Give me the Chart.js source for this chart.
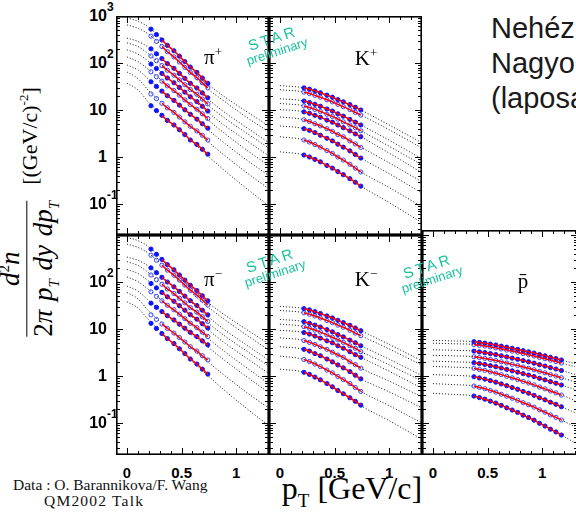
<!DOCTYPE html>
<html lang="hu">
<head>
<meta charset="UTF-8">
<title>Spektrumok</title>
<script src="https://cdn.jsdelivr.net/npm/chart.js"></script>
<style>
  html, body { margin: 0; padding: 0; background: #fff; }
  body { width: 576px; height: 513px; position: relative; overflow: hidden; }
  canvas { position: absolute; }
  .lbl { position: absolute; white-space: nowrap; }
  .ytick { font: bold 16px "Liberation Sans", Arial, sans-serif; transform: translate(-100%, -50%); }
  .ytick span { position: absolute; left: 100%; top: -7px; font-size: 12px; }
  .xtick { font: bold 15px "Liberation Sans", Arial, sans-serif; transform: translate(-50%, -50%); }
  .part { font: 21px "Liberation Serif", "Times New Roman", serif; transform: translate(-50%, -50%); }
  .part sup { font-size: 13px; }
  .star { color: #17c29c; font-family: "Liberation Sans", Arial, sans-serif; transform: translate(-50%, -50%) rotate(-18deg); text-align: center; line-height: 14px; }
  .star .s1 { font-size: 15px; letter-spacing: 3px; }
  .star .s2 { font-size: 13px; }
  #ytitle { position: absolute; left: 29px; top: 212px; transform: translate(-50%, -50%) rotate(-90deg);
            font-family: "Liberation Serif", "Times New Roman", serif; font-size: 27px; white-space: nowrap; display: flex; align-items: center; }
  #ytitle .frac { display: inline-flex; flex-direction: column; align-items: center; }
  #ytitle .den { border-top: 1.5px solid #000; padding-top: 1px; font-size: 27px; word-spacing: 2px; }
  #ytitle .unit { margin-left: 16px; font-size: 22px; }
  #ytitle sup, #ytitle sub { font-size: 15px; }
  #ytitle .unit sup { font-size: 13px; }
  #xtitle { position: absolute; left: 352px; top: 491px; transform: translate(-50%, -50%); font: 32px "Liberation Serif", "Times New Roman", serif; white-space: nowrap; }
  #xtitle sub { font-size: 19px; }
  #credit { position: absolute; left: 13px; top: 477px; font: 15.5px "Liberation Serif", "Times New Roman", serif; line-height: 16px; color: #111; }
  #credit span { margin-left: 31px; letter-spacing: 1.2px; }
  #note { position: absolute; left: 491px; top: 11px; font: 29px "Liberation Sans", Arial, sans-serif; line-height: 35px; color: #1a1a1a; white-space: nowrap; }
</style>
</head>
<body>
<canvas id="cPiP" width="153" height="219" style="left:116px;top:16px"></canvas>
<canvas id="cKP" width="153" height="219" style="left:269px;top:16px"></canvas>
<canvas id="cPiM" width="153" height="220" style="left:116px;top:235px"></canvas>
<canvas id="cKM" width="153" height="220" style="left:269px;top:235px"></canvas>
<canvas id="cPbar" width="156" height="225" style="left:422px;top:230px"></canvas>

<div id="ytitle"><span class="frac"><span class="num"><i>d</i><sup>2</sup><i>n</i></span><span class="den">2<i>π</i> <i>p</i><sub><i>T</i></sub> <i>dy</i> <i>dp</i><sub><i>T</i></sub></span></span><span class="unit">[(GeV/c)<sup>-2</sup>]</span></div>
<div id="xtitle">p<sub>T</sub> [GeV/c]</div>
<div id="credit">Data : O. Barannikova/F. Wang<br><span>QM2002 Talk</span></div>
<div id="note">Nehéz<br>Nagyobb<br>(laposabb</div>

<script>
// pT of the data points (GeV/c)
const ptPi = [0.22, 0.27, 0.32, 0.37, 0.43, 0.48, 0.53, 0.58, 0.64, 0.69, 0.74];
const ptK = [0.22, 0.27, 0.32, 0.37, 0.43, 0.48, 0.53, 0.58, 0.64, 0.69, 0.74];
const ptPbar = [0.375, 0.425, 0.475, 0.525, 0.575, 0.625, 0.675, 0.725, 0.775, 0.825, 0.875, 0.925, 0.975, 1.025, 1.075, 1.125, 1.175];

// spectra, one row per centrality bin (central first)
const piPlus = [
  [525, 403, 309, 237, 182, 140, 107, 82, 63, 48, 37],
  [372, 288, 224, 174, 135, 105, 81, 63, 49, 38, 29.5],
  [200, 157, 124, 97, 77, 60, 47, 37, 29.4, 23.1, 18.2],
  [141, 112, 88, 70, 55, 43.7, 34.5, 27.3, 21.6, 17.1, 13.5],
  [95, 76, 60, 48, 38, 30.2, 24, 19.1, 15.1, 12, 9.5],
  [65, 51, 41, 32.6, 25.9, 20.7, 16.4, 13.1, 10.4, 8.3, 6.6],
  [39.8, 31.7, 25.2, 20.1, 16, 12.7, 10.1, 8.1, 6.4, 5.1, 4.1],
  [21.9, 17.5, 13.9, 11.1, 8.9, 7.1, 5.6, 4.5, 3.6, 2.9, 2.3],
  [12.3, 9.7, 7.7, 6.0, 4.8, 3.8, 3.0, 2.3, 1.85, 1.46, 1.15]
];
const piMinus = [
  [501, 389, 302, 234, 182, 141, 110, 85, 66, 51, 39.8],
  [372, 291, 228, 179, 140, 110, 86, 67, 52.7, 41.3, 32.4],
  [200, 158, 126, 100, 79, 63, 50, 40, 31.6, 25.1, 20],
  [141, 112, 89.5, 71.3, 56.8, 45.2, 36, 28.6, 22.8, 18.2, 14.5],
  [93, 75, 60, 48.4, 38.9, 31.3, 25.1, 20.2, 16.2, 13, 10.5],
  [61.7, 49.5, 39.8, 32, 25.7, 20.7, 16.6, 13.3, 10.7, 8.6, 6.9],
  [35.5, 28.9, 23.5, 19.2, 15.6, 12.7, 10.4, 8.5, 6.9, 5.6, 4.6],
  [20, 16, 12.8, 10.3, 8.2, 6.6, 5.3, 4.2, 3.4, 2.7, 2.2],
  [13.2, 10.3, 8.0, 6.25, 4.9, 3.8, 3.0, 2.3, 1.8, 1.4, 1.1]
];
const kPlus = [
  [29.5, 27.7, 25.4, 23.3, 20.7, 18.7, 16.6, 14.9, 13.0, 11.4, 10.0],
  [24.0, 22.4, 20.5, 18.7, 16.5, 14.9, 13.2, 11.8, 10.2, 8.9, 7.8],
  [15.5, 14.4, 13.2, 12.0, 10.5, 9.5, 8.3, 7.4, 6.3, 5.5, 4.8],
  [12.2, 11.3, 10.3, 9.3, 8.1, 7.3, 6.4, 5.6, 4.8, 4.2, 3.6],
  [9.1, 8.5, 7.7, 7.0, 6.1, 5.5, 4.8, 4.2, 3.6, 3.1, 2.7],
  [6.2, 5.7, 5.1, 4.6, 4.0, 3.5, 3.0, 2.7, 2.2, 1.9, 1.6],
  [4.0, 3.7, 3.3, 2.9, 2.5, 2.2, 1.87, 1.62, 1.35, 1.13, 0.95],
  [2.3, 2.08, 1.84, 1.62, 1.37, 1.19, 1.0, 0.86, 0.70, 0.58, 0.48],
  [1.10, 1.0, 0.89, 0.79, 0.66, 0.58, 0.49, 0.42, 0.345, 0.29, 0.24]
];
const kMinus = [
  [27.1, 25.5, 23.4, 21.4, 19.0, 17.2, 15.3, 13.7, 12.0, 10.5, 9.2],
  [22.1, 20.6, 18.9, 17.2, 15.2, 13.7, 12.1, 10.9, 9.4, 8.2, 7.2],
  [14.3, 13.2, 12.1, 11.0, 9.7, 8.7, 7.6, 6.8, 5.8, 5.1, 4.4],
  [11.2, 10.4, 9.5, 8.6, 7.5, 6.7, 5.9, 5.2, 4.4, 3.9, 3.3],
  [8.4, 7.8, 7.1, 6.4, 5.6, 5.1, 4.4, 3.9, 3.3, 2.85, 2.5],
  [5.7, 5.2, 4.7, 4.2, 3.7, 3.2, 2.8, 2.5, 2.0, 1.75, 1.47],
  [3.7, 3.4, 3.0, 2.7, 2.3, 2.0, 1.72, 1.49, 1.24, 1.04, 0.87],
  [2.25, 2.04, 1.8, 1.59, 1.34, 1.17, 0.98, 0.84, 0.69, 0.57, 0.47],
  [1.2, 1.08, 0.95, 0.83, 0.69, 0.59, 0.49, 0.42, 0.345, 0.29, 0.24]
];
const pBar = [
  [5.37, 5.18, 5.0, 4.78, 4.57, 4.32, 4.10, 3.89, 3.68, 3.46, 3.27, 3.08, 2.86, 2.69, 2.50, 2.35, 2.19],
  [4.68, 4.51, 4.36, 4.16, 3.97, 3.77, 3.56, 3.38, 3.20, 3.0, 2.84, 2.67, 2.48, 2.33, 2.17, 2.03, 1.89],
  [3.39, 3.26, 3.14, 2.99, 2.86, 2.70, 2.55, 2.40, 2.27, 2.13, 2.01, 1.88, 1.74, 1.63, 1.51, 1.41, 1.31],
  [2.57, 2.47, 2.37, 2.25, 2.14, 2.01, 1.89, 1.77, 1.67, 1.55, 1.46, 1.36, 1.25, 1.17, 1.07, 1.0, 0.92],
  [1.92, 1.84, 1.76, 1.66, 1.58, 1.48, 1.38, 1.29, 1.21, 1.12, 1.05, 0.975, 0.893, 0.828, 0.759, 0.703, 0.644],
  [1.46, 1.38, 1.32, 1.23, 1.15, 1.07, 0.986, 0.912, 0.841, 0.769, 0.711, 0.649, 0.583, 0.533, 0.48, 0.438, 0.394],
  [0.966, 0.91, 0.859, 0.798, 0.741, 0.679, 0.622, 0.569, 0.521, 0.47, 0.431, 0.388, 0.345, 0.312, 0.277, 0.25, 0.222],
  [0.612, 0.573, 0.536, 0.493, 0.454, 0.41, 0.372, 0.337, 0.304, 0.271, 0.245, 0.218, 0.191, 0.17, 0.149, 0.132, 0.116],
  [0.375, 0.348, 0.322, 0.292, 0.266, 0.237, 0.211, 0.189, 0.168, 0.147, 0.131, 0.115, 0.0986, 0.0863, 0.074, 0.0647, 0.0556]
];

// dotted fit curves, sampled along pT
const dotPtPi = [0, 0.1, 0.2, 0.45, 0.7, 0.9, 1.1, 1.3];
const dotPiPlus = [
  [912, 776, 575, 158, 42.7, 18.6, 9.1, 4.57],
  [646, 550, 407, 119, 33.5, 14.8, 6.9, 3.39],
  [339, 288, 214, 67.6, 20.4, 8.7, 4.17, 2.0],
  [269, 224, 155, 49, 15.1, 6.6, 3.16, 1.55],
  [191, 155, 107, 33.9, 10.7, 4.57, 2.19, 1.05],
  [135, 107, 72, 23.2, 7.4, 3.09, 1.38, 0.65],
  [91, 71, 44.7, 14.3, 4.57, 1.91, 0.85, 0.40],
  [64.6, 46.8, 25.7, 7.9, 2.57, 1.05, 0.457, 0.209],
  [37.2, 26.9, 14.5, 4.27, 1.29, 0.50, 0.209, 0.091]
];
const dotPiMinus = [
  [890, 760, 560, 155, 44, 19.5, 9.6, 4.8],
  [640, 545, 405, 121, 35, 15.6, 7.3, 3.55],
  [340, 290, 216, 70, 22, 9.4, 4.5, 2.15],
  [270, 225, 156, 50, 16, 7.0, 3.35, 1.62],
  [185, 152, 104, 34.5, 11.5, 4.95, 2.35, 1.12],
  [128, 102, 69, 22.5, 7.6, 3.25, 1.47, 0.68],
  [82, 64, 40, 13.2, 4.9, 2.1, 0.95, 0.44],
  [60, 44, 24, 7.3, 2.4, 1.0, 0.44, 0.205],
  [38, 28, 15.5, 4.4, 1.25, 0.48, 0.2, 0.088]
];
const dotPtK = [0, 0.22, 0.48, 0.74, 1.0, 1.3];
const dotKPlus = [
  [33, 29.5, 18.6, 10, 4.8, 2.0],
  [27, 24, 14.8, 7.8, 3.8, 1.55],
  [17.4, 15.5, 9.5, 4.8, 2.27, 0.91],
  [13.8, 12.2, 7.2, 3.6, 1.69, 0.68],
  [10.2, 9.1, 5.5, 2.7, 1.21, 0.46],
  [7.1, 6.2, 3.55, 1.62, 0.75, 0.295],
  [4.57, 4.0, 2.19, 0.95, 0.44, 0.17],
  [2.7, 2.3, 1.19, 0.48, 0.224, 0.087],
  [1.29, 1.1, 0.575, 0.24, 0.107, 0.04]
];
const dotKMinus = [
  [30.4, 27.1, 17.1, 9.2, 4.7, 2.1],
  [24.8, 22.1, 13.6, 7.2, 3.76, 1.7],
  [16.0, 14.3, 8.7, 4.4, 2.28, 1.02],
  [12.7, 11.2, 6.6, 3.3, 1.73, 0.78],
  [9.4, 8.4, 5.1, 2.5, 1.26, 0.55],
  [6.5, 5.7, 3.27, 1.47, 0.78, 0.36],
  [4.2, 3.7, 2.0, 0.87, 0.46, 0.21],
  [2.65, 2.25, 1.17, 0.47, 0.234, 0.10],
  [1.4, 1.2, 0.6, 0.235, 0.112, 0.045]
];
const dotPtPbar = [0, 0.2, 0.375, 0.775, 1.175, 1.3];
const dotPbar = [
  [5.71, 5.57, 5.37, 3.68, 2.19, 1.83],
  [4.99, 4.85, 4.68, 3.20, 1.89, 1.58],
  [3.62, 3.52, 3.39, 2.27, 1.31, 1.08],
  [2.76, 2.68, 2.57, 1.67, 0.92, 0.75],
  [2.07, 2.0, 1.92, 1.21, 0.644, 0.518],
  [1.60, 1.54, 1.46, 0.841, 0.394, 0.303],
  [1.07, 1.03, 0.966, 0.521, 0.222, 0.166],
  [0.689, 0.655, 0.612, 0.304, 0.116, 0.083],
  [0.429, 0.405, 0.375, 0.168, 0.0556, 0.0379]
];

// axes
const xTicks = [0, 0.5, 1];
const xTickText = ['0', '0.5', '1'];
const yTicks = [1000, 100, 10, 1, 0.1];
const yTickBase = ['10', '10', '10', '1', '10'];
const yTickExp = ['3', '2', '', '', '-1'];

// marker style per centrality bin: filled / open alternate
const filled = [true, false, true, false, true, false, true, false, true];

function pts(xs, ys) {
    return ys.map((y, i) => ({ x: xs[i], y: y }));
}

// frame with inward ticks on all four sides
const framePlugin = {
    id: 'frame',
    afterDatasetsDraw(chart) {
        const { ctx, chartArea: a, scales } = chart;
        const x = scales.x, y = scales.y;
        ctx.save();
        ctx.strokeStyle = '#000';
        ctx.lineWidth = 1;
        ctx.beginPath();
        for (let i = -1; i <= 14; i++) {
            const px = Math.round(x.getPixelForValue(i / 10)) + 0.5;
            if (px <= a.left + 2 || px >= a.right - 2) continue;
            const len = (i % 5 === 0) ? 7 : 4;
            ctx.moveTo(px, a.bottom); ctx.lineTo(px, a.bottom - len);
            ctx.moveTo(px, a.top); ctx.lineTo(px, a.top + len);
        }
        for (let e = -2; e <= 3; e++) {
            for (let m = 1; m <= 9; m++) {
                const v = m * Math.pow(10, e);
                const py = Math.round(y.getPixelForValue(v)) + 0.5;
                if (py <= a.top + 1 || py >= a.bottom - 1) continue;
                const len = (m === 1) ? 7 : 4;
                ctx.moveTo(a.left, py); ctx.lineTo(a.left + len, py);
                ctx.moveTo(a.right, py); ctx.lineTo(a.right - len, py);
            }
        }
        ctx.stroke();
        ctx.lineWidth = 1.6;
        ctx.strokeRect(a.left + 0.8, a.top + 0.8, a.width - 1.6, a.height - 1.6);
        ctx.restore();
    }
};

function makePanel(id, xs, series, fitFrom, dotXs, dotSeries, yMin, yMax, xMax) {
    const datasets = [];
    dotSeries.forEach(ys => datasets.push({
        data: pts(dotXs, ys), showLine: true, borderColor: '#111', borderWidth: 1,
        borderDash: [1, 2], pointRadius: 0, cubicInterpolationMode: 'monotone', order: 3
    }));
    series.forEach((ys, i) => datasets.push({
        data: pts(xs, ys), pointRadius: 2.1,
        pointBackgroundColor: filled[i] ? '#0a14ff' : 'rgba(255,255,255,0)',
        pointBorderColor: filled[i] ? '#0a14ff' : '#3344ff',
        pointBorderWidth: 1, order: 2
    }));
    series.forEach(ys => datasets.push({
        data: pts(xs.slice(fitFrom), ys.slice(fitFrom)), showLine: true,
        borderColor: '#ff0000', borderWidth: 1.5, pointRadius: 0, tension: 0.3, order: 1
    }));
    return new Chart(document.getElementById(id), {
        type: 'scatter',
        data: { datasets: datasets },
        options: {
            responsive: false,
            animation: false,
            events: [],
            layout: { padding: 0, autoPadding: false },
            plugins: { legend: { display: false }, tooltip: { enabled: false } },
            scales: {
                x: { type: 'linear', min: -0.1, max: xMax, display: false },
                y: { type: 'logarithmic', min: yMin, max: yMax, display: false }
            }
        },
        plugins: [framePlugin]
    });
}

const chPiP = makePanel('cPiP', ptPi, piPlus, 2, dotPtPi, dotPiPlus, 0.0219, 1000, 1.3);
const chKP = makePanel('cKP', ptK, kPlus, 0, dotPtK, dotKPlus, 0.0219, 1000, 1.3);
const chPiM = makePanel('cPiM', ptPi, piMinus, 2, dotPtPi, dotPiMinus, 0.0209, 1000, 1.3);
const chKM = makePanel('cKM', ptK, kMinus, 0, dotPtK, dotKMinus, 0.0209, 1000, 1.3);
const chPbar = makePanel('cPbar', ptPbar, pBar, 0, dotPtPbar, dotPbar, 0.0209, 1277, 1.327);

function label(html, cls, x, y) {
    const d = document.createElement('div');
    d.className = 'lbl ' + cls;
    d.innerHTML = html;
    d.style.left = x + 'px';
    d.style.top = y + 'px';
    document.body.appendChild(d);
    return d;
}
function offset(chart) {
    const c = chart.canvas;
    return { left: c.offsetLeft, top: c.offsetTop };
}

// y tick labels on the left panels
[chPiP, chPiM].forEach((ch, row) => {
    const o = offset(ch);
    yTicks.forEach((v, i) => {
        if (row === 1 && v >= 1000) return;
        const py = o.top + ch.scales.y.getPixelForValue(v);
        const exp = yTickExp[i] ? '<span>' + yTickExp[i] + '</span>' : '';
        label(yTickBase[i] + exp, 'ytick', o.left - 9, py);
    });
});
// x tick labels under the bottom row
[chPiM, chKM, chPbar].forEach(ch => {
    const o = offset(ch);
    xTicks.forEach((v, i) => {
        label(xTickText[i], 'xtick', o.left + ch.scales.x.getPixelForValue(v), 472);
    });
});

// particle names
label('π<sup>+</sup>', 'part', 213, 57);
label('K<sup>+</sup>', 'part', 366, 58);
label('π<sup>−</sup>', 'part', 213, 279);
label('K<sup>−</sup>', 'part', 366, 279);
label('p̄', 'part', 523, 281);

// STAR preliminary stamps
const stamp = '<div class="s1">STAR</div><div class="s2">preliminary</div>';
label(stamp, 'star', 275, 45);
label(stamp, 'star', 273, 267);
label(stamp, 'star', 430, 273);
</script>
</body>
</html>
